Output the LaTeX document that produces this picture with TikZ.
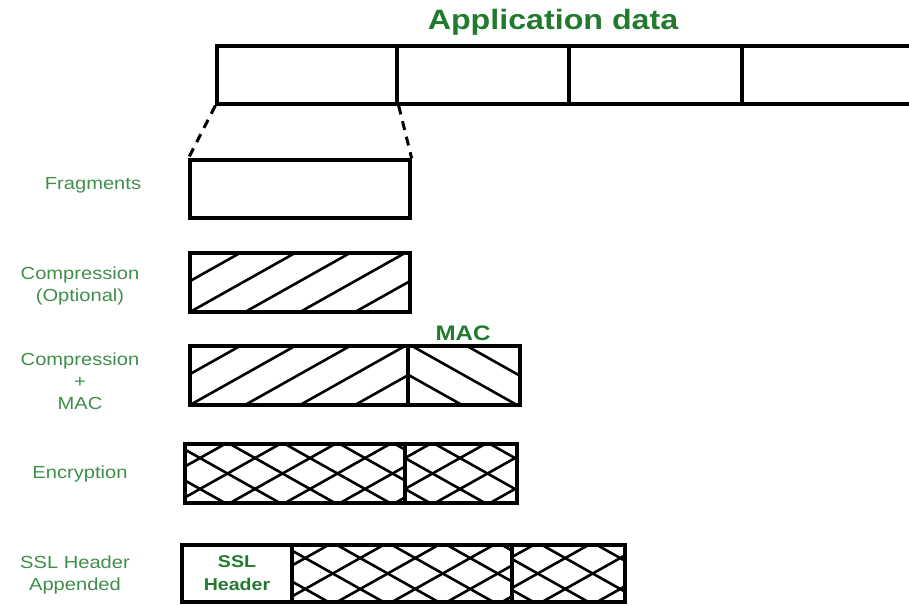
\documentclass[tikz,border=0pt]{standalone}
\usepackage{fontspec}
\setmainfont{Liberation Sans}[FakeStretch=1.15]
\usetikzlibrary{positioning}
\definecolor{titlegreen}{RGB}{34,122,46}
\definecolor{labelgreen}{RGB}{64,142,74}

\begin{document}
\begin{tikzpicture}
	[x=1pt,y=-1pt,
	box node/.style={shape=rectangle,draw,line width=3.3pt,inner sep=0pt,minimum height=58pt},
	step label/.style={text=labelgreen,font=\fontsize{17.5}{22}\selectfont,align=center},
	head label/.style={text=titlegreen,font=\bfseries},
	rise lines/.style={path picture={\foreach \k in {-3,...,5}
		\draw[line width=2.6pt] ([xshift=\k*55pt+#1]path picture bounding box.south west) -- ++(105pt,59pt);}},
	fall lines/.style={path picture={\foreach \k in {-3,...,5}
		\draw[line width=2.6pt] ([xshift=\k*55pt+#1]path picture bounding box.north west) -- ++(105pt,-59pt);}},
	cross lines/.style={path picture={\foreach \k in {-3,...,5} {
		\draw[line width=2.6pt] ([xshift=\k*55pt+#1]path picture bounding box.south west) -- ++(105pt,59pt);
		\draw[line width=2.6pt] ([xshift=\k*55pt+#1]path picture bounding box.north west) -- ++(105pt,-59pt);}}}]
	\useasboundingbox (0,0) rectangle (909,605);
	
	\node [head label,font=\bfseries\fontsize{28}{32}\selectfont] (title) at (553,22) {Application data};
	\node [box node,minimum width=180pt] (app1) at (307,75) {};
	\node [box node,minimum width=172pt] (app2) at (483,75) {};
	\node [box node,minimum width=173pt] (app3) at (655.5,75) {};
	\node [box node,minimum width=198pt] (app4) at (841,75) {};
	
	\node [box node,minimum width=220pt] (frag) at (300,189) {};
	\node [step label] (fraglabel) at (93,185) {Fragments};
	
	\node [box node,minimum width=220pt,minimum height=59pt,rise lines=0pt] (comp) at (300,282.5) {};
	\node [step label] (complabel) at (80,286) {Compression\\(Optional)};
	
	\node [box node,minimum width=218pt,minimum height=59pt,rise lines=0pt] (cmdata) at (299,375.5) {};
	\node [box node,minimum width=112pt,minimum height=59pt,fall lines=4pt] (cmmac) at (464,375.5) {};
	\node [head label,font=\bfseries\fontsize{21}{24}\selectfont] (maclabel) at (463,333) {MAC};
	\node [step label] (cmlabel) at (80,381) {Compression\\+\\MAC};
	
	\node [box node,minimum width=220pt,minimum height=59pt,cross lines=-10pt] (encdata) at (295,473.5) {};
	\node [box node,minimum width=112pt,minimum height=59pt,cross lines=-25pt] (encmac) at (461,473.5) {};
	\node [step label] (enclabel) at (80,474) {Encryption};
	
	\node [box node,minimum width=110pt,minimum height=57pt,head label,align=center,
		font=\bfseries\fontsize{17}{23}\selectfont] (sslhdr) at (237,573.5) {SSL\\Header};
	\node [box node,minimum width=220pt,minimum height=57pt,cross lines=-10pt] (ssldata) at (402,573.5) {};
	\node [box node,minimum width=113pt,minimum height=57pt,cross lines=-25pt] (sslmac) at (568.5,573.5) {};
	\node [step label] (ssllabel) at (75,575) {SSL Header\\Appended};
	
	\path[draw,line width=3pt,dash pattern=on 9pt off 7pt]
	(app1.south west) edge (frag.north west)
	(app1.south east) edge (frag.north east)
	;
	
\end{tikzpicture}
\end{document}
